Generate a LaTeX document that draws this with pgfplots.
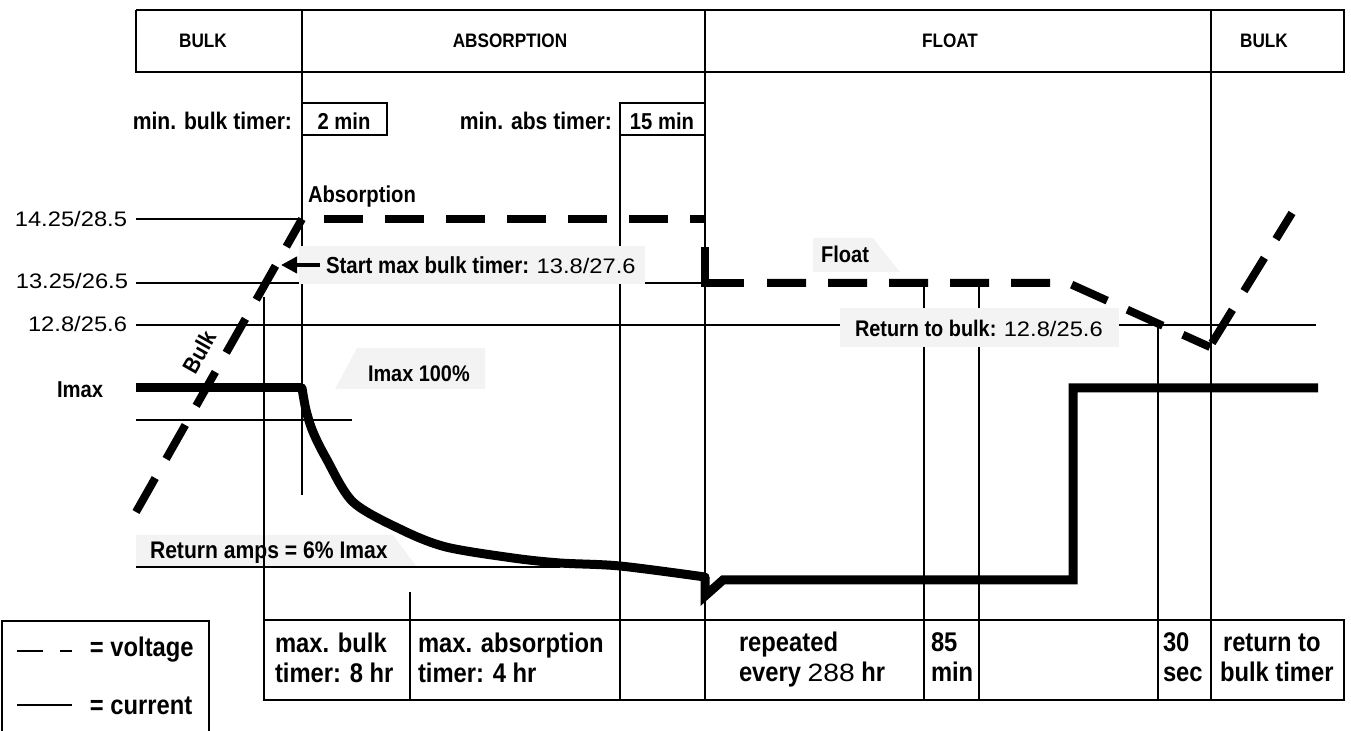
\documentclass[border=0pt]{standalone}
\usepackage{pgfplots}
\pgfplotsset{compat=1.18}
\usetikzlibrary{arrows.meta}
\usepackage{fontspec}
\setmainfont{Liberation Sans}
\newfontfamily\nb{Liberation Sans}[FakeStretch=0.88]
\newfontfamily\nr{Liberation Sans}[FakeStretch=1.13]
\newcommand{\fbold}[1]{\nb\bfseries\fontsize{#1}{#1}\selectfont}
\newcommand{\freg}[1]{\nr\mdseries\fontsize{#1}{#1}\selectfont}
\definecolor{boxgrey}{RGB}{242,243,242}
\tikzset{tx/.style={inner sep=0pt, outer sep=0pt}}
\begin{document}
\begin{tikzpicture}
\begin{axis}[
  scale only axis, width=675.5pt, height=365.5pt,
  xmin=0, xmax=1351, ymin=0, ymax=731, y dir=reverse,
  hide axis, clip=false,
  ln/.style={black, line width=0.75pt},
  lnb/.style={black, line width=1.1pt},
  volt/.style={black, line width=4pt, dash pattern=on 19.5pt off 11pt},
  cur/.style={black, line width=4.5pt},
]
% ---- frame and grid lines
\addplot[ln, line width=0.9pt] coordinates {(136,10)(1344,10)(1344,72)(136,72)(136,10)};
\addplot[lnb] coordinates {(302,10)(302,72)};
\addplot[ln] coordinates {(302,72)(302,495)};
\addplot[ln] coordinates {(705,10)(705,700)};
\addplot[ln] coordinates {(1211,10)(1211,700)};
\addplot[ln] coordinates {(302,103)(387,103)(387,135)(302,135)};
\addplot[ln] coordinates {(705,103)(620,103)(620,700)};
\addplot[ln] coordinates {(620,135)(705,135)};
\addplot[ln] coordinates {(136,219)(302,219)};
\addplot[ln] coordinates {(136,283)(705,283)};
\addplot[ln] coordinates {(136,325)(1316,325)};
\addplot[ln] coordinates {(136,420)(352,420)};
\addplot[ln] coordinates {(264,620)(1344,620)(1344,700)(264,700)(264,620)};
\addplot[lnb] coordinates {(410,592)(410,700)};
\addplot[lnb] coordinates {(924,283)(924,700)};
\addplot[ln] coordinates {(979,283)(979,700)};
\addplot[lnb] coordinates {(1158,322)(1158,700)};
% legend box
\addplot[ln] coordinates {(2,731)(2,621)(209,621)(209,731)};
\addplot[ln] coordinates {(17,651)(43,651)};
\addplot[ln] coordinates {(60,651)(72,651)};
\addplot[ln] coordinates {(17,705)(72,705)};
% ---- label boxes
\addplot[fill=boxgrey, draw=none] coordinates {(299,246)(645,246)(645,284)(299,284)};
\addplot[fill=boxgrey, draw=none] coordinates {(840,308)(1119,308)(1119,347)(840,347)};
\addplot[fill=boxgrey, draw=none] coordinates {(335,389)(357,348)(485,348)(485,389)};
\addplot[fill=boxgrey, draw=none] coordinates {(813,238)(873,238)(900,272)(813,272)};
\addplot[fill=boxgrey, draw=none] coordinates {(136,535)(393,535)(417,567)(136,567)};
\addplot[ln] coordinates {(136,567)(560,567)};
\addplot[lnb] coordinates {(264,297)(264,620)};
% ---- arrow
\addplot[black, line width=2pt, -{Triangle[length=8pt,width=8pt]}] coordinates {(320,265)(281,265)};
% ---- voltage
\addplot[volt] coordinates {(136,512)(302,219)};
\addplot[volt, dash phase=19.5pt] coordinates {(302,219)(705,219)};
\addplot[black, line width=4pt] coordinates {(705,247)(705,283)(744,283)};
\addplot[volt] coordinates {(767,283)(1068,283)(1210,347)};
\addplot[volt] coordinates {(1212,343)(1292,213)};
% ---- current
\addplot[cur] coordinates {(136,388)(302,388)};
\addplot[cur, smooth, line cap=round] coordinates {(302,388)(306,410)(313,432)(326,458)(353,502)(402,530)(446,547)(513,558)(560,563)(620,566)(705,577)};
\addplot[cur] coordinates {(705,577)(705,596)(723,580)(1073,580)(1073,388)(1318,388)};
% ---- texts
\node[tx, anchor=base, font=\fbold{9.75}] at (203,48) {BULK};
\node[tx, anchor=base, font=\fbold{9.75}] at (510,48) {ABSORPTION};
\node[tx, anchor=base, font=\fbold{9.75}] at (950,48) {FLOAT};
\node[tx, anchor=base, font=\fbold{9.75}] at (1264,48) {BULK};
\node[tx, anchor=base east, font=\fbold{12}] at (292,130) {min. bulk timer:};
\node[tx, anchor=base, font=\fbold{11.5}] at (344,130) {2 min};
\node[tx, anchor=base east, font=\fbold{12}] at (612,130) {min. abs timer:};
\node[tx, anchor=base, font=\fbold{11.5}] at (662,130) {15 min};
\node[tx, anchor=base west, font=\fbold{11.5}] at (308,203) {Absorption};
\node[tx, anchor=base east, font=\freg{10.5}] at (127,226.5) {14.25/28.5};
\node[tx, anchor=base east, font=\freg{10.5}] at (128,289) {13.25/26.5};
\node[tx, anchor=base east, font=\freg{10.5}] at (127,332) {12.8/25.6};
\node[tx, anchor=base west, font=\fbold{11.5}] at (57,398) {Imax};
\node[tx, anchor=base west] at (326,274) {\fbold{11.6}Start max bulk timer: \freg{10.5}13.8/27.6};
\node[tx, anchor=base west, font=\fbold{11.4}] at (821,263) {Float};
\node[tx, anchor=base west] at (855,337) {\fbold{11.3}Return to bulk: \freg{10.5}12.8/25.6};
\node[tx, anchor=base west, font=\fbold{11.3}] at (368,382) {Imax 100\%};
\node[tx, anchor=base west, font=\fbold{12}] at (150,559) {Return amps = 6\% Imax};
\node[tx, rotate=60.5, font=\fbold{11.5}] at (199,352) {Bulk};
\node[tx, anchor=base west, font=\fbold{13.5}] at (275,653) {max. bulk};
\node[tx, anchor=base west, font=\fbold{13.5}] at (275,683) {timer: 8 hr};
\node[tx, anchor=base west, font=\fbold{13.5}] at (418,653) {max. absorption};
\node[tx, anchor=base west, font=\fbold{13.5}] at (418,683) {timer: 4 hr};
\node[tx, anchor=base west, font=\fbold{13.5}] at (739,652) {repeated};
\node[tx, anchor=base west, font=\fbold{13.5}] at (739,682) {every {\freg{12.5}288} hr};
\node[tx, anchor=base west, font=\fbold{13.5}] at (931,652) {85};
\node[tx, anchor=base west, font=\fbold{13.5}] at (931,682) {min};
\node[tx, anchor=base west, font=\fbold{13.5}] at (1163,652) {30};
\node[tx, anchor=base west, font=\fbold{13.5}] at (1163,682) {sec};
\node[tx, anchor=base west, font=\fbold{13.5}] at (1223,652) {return to};
\node[tx, anchor=base west, font=\fbold{13.5}] at (1220,682) {bulk timer};
\node[tx, anchor=base west, font=\fbold{13.5}] at (90,657) {= voltage};
\node[tx, anchor=base west, font=\fbold{13.5}] at (90,715) {= current};
\end{axis}
\pgfresetboundingbox
\path (current axis.south west) rectangle (current axis.north east);
\end{tikzpicture}
\end{document}
